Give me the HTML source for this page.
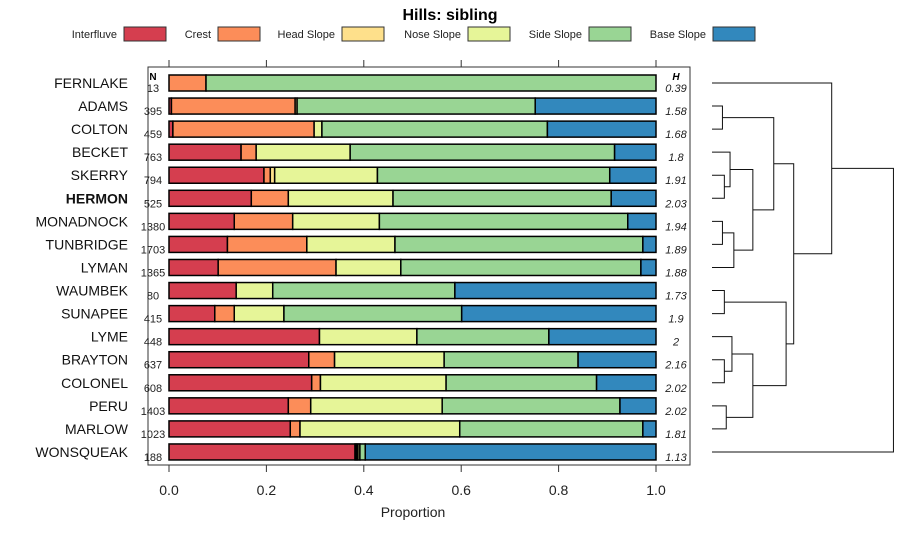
<!DOCTYPE html>
<html><head><meta charset="utf-8"><style>
body{margin:0;background:#fff;font-family:"Liberation Sans",sans-serif}
svg text{font-family:"Liberation Sans",sans-serif}
</style></head><body>
<svg id="c" width="900" height="540" xmlns="http://www.w3.org/2000/svg">
<text x="450" y="20" text-anchor="middle" font-size="16" font-weight="bold">Hills: sibling</text>
<g id="legend"></g>
<g id="plot"></g>
<g id="dendro"></g>
<text x="413" y="517" text-anchor="middle" font-size="14" fill="#222">Proportion</text>
</svg>
<script>
const categories=["Interfluve","Crest","Head Slope","Nose Slope","Side Slope","Base Slope"];
const colors=["#D53E4F","#FC8D59","#FEE08B","#E6F598","#99D594","#3288BD"];
const hills=["FERNLAKE","ADAMS","COLTON","BECKET","SKERRY","HERMON","MONADNOCK","TUNBRIDGE","LYMAN","WAUMBEK","SUNAPEE","LYME","BRAYTON","COLONEL","PERU","MARLOW","WONSQUEAK"];
const nValues=[13,395,459,763,794,525,1380,1703,1365,80,415,448,637,608,1403,1023,188];
const hValues=["0.39","1.58","1.68","1.8","1.91","2.03","1.94","1.89","1.88","1.73","1.9","2","2.16","2.02","2.02","1.81","1.13"];
// cumulative boundaries (end of Interfluve, Crest, Head, Nose, Side)
const cumulative=[
[0,0.076,0.076,0.076,1],
[0.005,0.259,0.263,0.263,0.752],
[0.008,0.298,0.298,0.314,0.777],
[0.148,0.179,0.179,0.372,0.915],
[0.195,0.208,0.217,0.428,0.905],
[0.169,0.245,0.245,0.46,0.908],
[0.134,0.254,0.254,0.432,0.942],
[0.12,0.283,0.283,0.464,0.973],
[0.101,0.343,0.343,0.476,0.969],
[0.138,0.138,0.138,0.213,0.587],
[0.094,0.134,0.134,0.236,0.601],
[0.309,0.309,0.309,0.509,0.78],
[0.287,0.34,0.34,0.565,0.84],
[0.293,0.311,0.311,0.569,0.878],
[0.245,0.291,0.291,0.561,0.926],
[0.249,0.269,0.269,0.597,0.973],
[0.382,0.385,0.388,0.392,0.403]];
const xTicks=[0,0.2,0.4,0.6,0.8,1.0];
const xTickLabels=["0.0","0.2","0.4","0.6","0.8","1.0"];
const merges=[[1,2,1.1],[4,5,1.3],[3,"n1",1.9],[6,7,1.1],["n3",8,2.3],["n2","n4",4.3],["n0","n5",6.5],[9,10,1.3],[12,13,1.3],[11,"n8",2.1],[14,15,1.5],["n9","n10",4.3],["n7","n11",7.8],["n6","n12",8.6],[0,"n13",12.6],["n14",16,19.1]];

const NS="http://www.w3.org/2000/svg";
function mk(p,t,a){const e=document.createElementNS(NS,t);for(const k in a)e.setAttribute(k,a[k]);p.appendChild(e);return e;}
const X=v=>169+v*487;
const Y=i=>83+i*23.06;
const plot=document.getElementById('plot');
let r=mk(plot,'rect',{x:148,y:67,width:542,height:398,fill:'none',stroke:'#333','stroke-width':1});


xTicks.forEach((t,k)=>{
  let l=mk(plot,'line',{x1:X(t),x2:X(t),y1:60,y2:67,stroke:'#333'});
  
  
  let l2=mk(plot,'line',{x1:X(t),x2:X(t),y1:465,y2:472,stroke:'#333'});
  
  
  let tx=mk(plot,'text',{x:X(t),y:495,'text-anchor':'middle','font-size':14,fill:'#222'});
  tx.textContent=xTickLabels[k];
  
  
});
let nh=mk(plot,'text',{x:153,y:80,'text-anchor':'middle','font-size':10,'font-weight':'bold'});nh.textContent='N';


let hh=mk(plot,'text',{x:676,y:80,'text-anchor':'middle','font-size':10,'font-weight':'bold','font-style':'italic'});hh.textContent='H';


hills.forEach((h,i)=>{
  const y=Y(i);
  let lb=mk(plot,'text',{x:128,y:y+5,'text-anchor':'end','font-size':14,fill:'#111','font-weight':h==='HERMON'?'bold':'normal'});
  lb.textContent=h;
  
  
  let nt=mk(plot,'text',{x:153,y:y+9,'text-anchor':'middle','font-size':11,fill:'#222'});
  nt.textContent=nValues[i];
  
  
  let ht=mk(plot,'text',{x:676,y:y+9,'text-anchor':'middle','font-size':11,'font-style':'italic',fill:'#222'});
  ht.textContent=hValues[i];
  
  
  const bounds=[0,...cumulative[i],1];
  for(let c=0;c<6;c++){
    const a=bounds[c],b=bounds[c+1];
    if(b-a<=0)continue;
    let s=mk(plot,'rect',{x:X(a),y:y-8,width:X(b)-X(a),height:16,fill:colors[c],stroke:'#000','stroke-width':1.5});
    
    
  }
});
const lg=document.getElementById('legend');
const lgX=[117,211,335,461,582,706];
categories.forEach((c,k)=>{
  let t=mk(lg,'text',{x:lgX[k],y:38,'text-anchor':'end','font-size':11,fill:'#222'});t.textContent=c;
  
  
  let b=mk(lg,'rect',{x:lgX[k]+7,y:27,width:42,height:14,fill:colors[k],stroke:'#333'});
  
  
});
const dg=document.getElementById('dendro');
const DX=h=>712+h*9.5;
const nodes=[];
function pos(n){return typeof n==='number'?{x:712,y:Y(n)}:nodes[+n.slice(1)];}
merges.forEach(m=>{
  const a=pos(m[0]),b=pos(m[1]),x=DX(m[2]);
  let p=mk(dg,'path',{d:`M${a.x},${a.y}H${x}V${b.y}H${b.x}`,fill:'none',stroke:'#111','stroke-width':1});
  
  
  nodes.push({x:x,y:(a.y+b.y)/2});
});
</script>
</body></html>
